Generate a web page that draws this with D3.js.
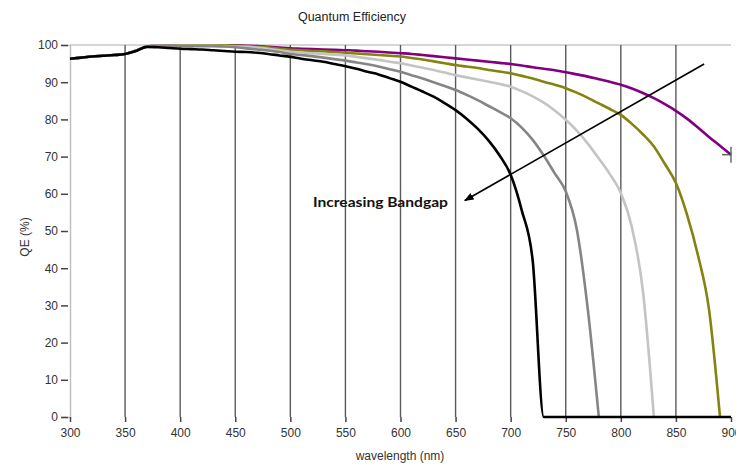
<!DOCTYPE html>
<html>
<head>
<meta charset="utf-8">
<script src="https://cdn.jsdelivr.net/npm/d3@7"></script>
<style>
  body { margin: 0; background: #fff; }
  svg { display: block; }
</style>
</head>
<body>
<div id="chart"></div>
<script>
// Quantum efficiency curves
var wavelengths = [300, 310, 320, 330, 340, 350, 360, 370, 380, 390, 400,
	410, 420, 430, 440, 450, 460, 470, 480, 490, 500,
	510, 520, 530, 540, 550, 560, 570, 580, 590, 600,
	610, 620, 630, 640, 650, 660, 670, 680, 690, 700,
	710, 720, 730, 740, 750, 760, 770, 780, 790, 800,
	810, 820, 830, 840, 850, 860, 870, 880, 890, 900];

var qePurple = [96.3, 96.6, 96.9, 97.1, 97.3, 97.6, 98.5, 99.6, 99.8, 99.9, 99.9,
	99.9, 99.9, 99.9, 99.9, 99.9, 99.8, 99.7, 99.5, 99.3, 99.1,
	99.0, 98.9, 98.8, 98.7, 98.6, 98.5, 98.3, 98.2, 98.0, 97.8,
	97.6, 97.3, 97.0, 96.7, 96.4, 96.1, 95.8, 95.5, 95.2, 94.9,
	94.5, 94.0, 93.6, 93.2, 92.7, 92.1, 91.5, 90.8, 90.1, 89.3,
	88.3, 87.1, 85.7, 84.1, 82.3, 80.2, 77.8, 75.3, 72.9, 70.5];

var qeOlive = [96.3, 96.6, 96.9, 97.1, 97.3, 97.6, 98.5, 99.6, 99.8, 99.8, 99.9,
	99.9, 99.9, 99.9, 99.9, 99.8, 99.7, 99.5, 99.3, 99.0, 98.7,
	98.6, 98.4, 98.3, 98.1, 97.9, 97.7, 97.5, 97.3, 97.1, 96.9,
	96.5, 96.1, 95.6, 95.1, 94.6, 94.2, 93.8, 93.3, 92.9, 92.4,
	91.7, 91.0, 90.1, 89.3, 88.4, 87.2, 85.8, 84.3, 82.8, 81.2,
	78.8, 76.0, 72.7, 68.0, 62.9, 54.5, 43.5, 29.0, 0, null];

var qeLightGray = [96.3, 96.6, 96.9, 97.1, 97.3, 97.6, 98.5, 99.6, 99.8, 99.8, 99.8,
	99.8, 99.8, 99.8, 99.7, 99.6, 99.5, 99.3, 99.0, 98.6, 98.2,
	98.0, 97.8, 97.6, 97.4, 97.2, 96.8, 96.4, 96.0, 95.5, 95.1,
	94.5, 93.9, 93.3, 92.6, 91.9, 91.3, 90.7, 90.1, 89.5, 88.8,
	87.6, 86.2, 84.5, 82.4, 79.9, 77.0, 73.5, 69.5, 65.3, 60.2,
	51.0, 34.0, 0, null, null, null, null, null, null, null];

var qeDarkGray = [96.3, 96.6, 96.9, 97.1, 97.3, 97.6, 98.5, 99.6, 99.7, 99.7, 99.7,
	99.7, 99.7, 99.7, 99.6, 99.4, 99.1, 98.8, 98.5, 98.1, 97.6,
	97.3, 97.0, 96.6, 96.2, 95.8, 95.3, 94.8, 94.2, 93.5, 92.8,
	91.9, 91.0, 90.0, 89.0, 87.9, 86.6, 85.2, 83.6, 82.0, 80.3,
	77.8, 74.5, 70.3, 65.5, 60.6, 50.5, 29.0, 0, null, null,
	null, null, null, null, null, null, null, null, null, null];

var qeBlack = [96.3, 96.6, 96.9, 97.1, 97.3, 97.6, 98.4, 99.5, 99.4, 99.2, 99.0,
	98.9, 98.8, 98.6, 98.4, 98.2, 98.1, 97.9, 97.6, 97.2, 96.8,
	96.3, 95.9, 95.5, 94.9, 94.3, 93.6, 92.8, 92.1, 91.1, 90.1,
	88.8, 87.5, 86.1, 84.4, 82.5, 80.2, 77.5, 74.3, 70.3, 65.1,
	55.6, 42.0, 0, 0, 0, 0, 0, 0, 0, 0,
	0, 0, 0, 0, 0, 0, 0, 0, 0, 0];

var xTicks = [300, 350, 400, 450, 500, 550, 600, 650, 700, 750, 800, 850, 900];
var yTicks = [0, 10, 20, 30, 40, 50, 60, 70, 80, 90, 100];

// arrow annotation: [wavelength, QE] from -> to, and label position
var arrowFrom = [875.6, 94.9];
var arrowTo = [658.4, 58.2];
var labelAt = [581.8, 57.9];
var labelText = "Increasing Bandgap";

var margin = { top: 45, right: 5, bottom: 50, left: 70 };
var width = 736 - margin.left - margin.right,
	height = 467 - margin.top - margin.bottom;

var svg = d3.select("#chart").append("svg")
	.attr("width", 736)
	.attr("height", 467);

var g = svg.append("g")
	.attr("transform", "translate(" + margin.left + "," + margin.top + ")");

var x = d3.scaleLinear().domain([300, 900]).range([0, width]);
var y = d3.scaleLinear().domain([0, 100]).range([height, 0]);

// title
svg.append("text")
	.attr("x", 352)
	.attr("y", 21)
	.attr("text-anchor", "middle")
	.style("font-family", "'Liberation Sans', Arial, sans-serif")
	.style("font-size", "12.5px")
	.style("fill", "#222")
	.text("Quantum Efficiency");

// top frame line
g.append("line")
	.attr("x1", 0).attr("x2", width)
	.attr("y1", 0).attr("y2", 0)
	.attr("stroke", "#c8c8c8")
	.attr("stroke-width", 1.5);

// vertical grid lines
g.selectAll(".grid")
	.data(xTicks.filter(function(d){ return d > 300 && d < 900; }))
	.enter().append("line")
	.attr("class", "grid")
	.attr("x1", function(d){ return x(d); })
	.attr("x2", function(d){ return x(d); })
	.attr("y1", 0)
	.attr("y2", height)
	.attr("stroke", "#5a5a5a")
	.attr("stroke-width", 1.4);

// y axis
var yAxis = d3.axisLeft(y).tickValues(yTicks).tickSize(9).tickPadding(3);
var yg = g.append("g").call(yAxis);
yg.select(".domain").attr("stroke", "#c0c0c0").attr("stroke-width", 1.5);
yg.selectAll(".tick line").attr("stroke", "#444").attr("stroke-width", 1.5)
	.attr("x1", -2);
yg.selectAll(".tick text")
	.style("font-family", "'Liberation Sans', Arial, sans-serif")
	.style("font-size", "12px")
	.style("fill", "#333");

// x axis
var xAxis = d3.axisBottom(x).tickValues(xTicks).tickSize(5).tickPadding(6);
var xg = g.append("g").attr("transform", "translate(0," + height + ")").call(xAxis);
xg.select(".domain").remove();
xg.selectAll(".tick line").attr("stroke", "#444").attr("stroke-width", 1.5);
xg.selectAll(".tick text")
	.style("font-family", "'Liberation Sans', Arial, sans-serif")
	.style("font-size", "12px")
	.style("fill", "#333");

// axis titles
svg.append("text")
	.attr("x", 400)
	.attr("y", 460)
	.attr("text-anchor", "middle")
	.style("font-family", "'Liberation Sans', Arial, sans-serif")
	.style("font-size", "12px")
	.style("fill", "#333")
	.text("wavelength (nm)");

svg.append("text")
	.attr("transform", "translate(29,237) rotate(-90)")
	.attr("text-anchor", "middle")
	.style("font-family", "'Liberation Sans', Arial, sans-serif")
	.style("font-size", "12px")
	.style("fill", "#333")
	.text("QE (%)");

// curves
var series = [
	{ name: "purple", color: "#800080", values: qePurple },
	{ name: "olive", color: "#838310", values: qeOlive },
	{ name: "lightgray", color: "#c4c4c4", values: qeLightGray },
	{ name: "darkgray", color: "#858585", values: qeDarkGray },
	{ name: "black", color: "#000000", values: qeBlack }
];

var line = d3.line()
	.defined(function(d){ return d[1] !== null; })
	.curve(d3.curveMonotoneX)
	.x(function(d){ return x(d[0]); })
	.y(function(d){ return y(d[1]); });

g.selectAll(".curve")
	.data(series)
	.enter().append("path")
	.attr("class", "curve")
	.attr("fill", "none")
	.attr("stroke", function(d){ return d.color; })
	.attr("stroke-width", 2.6)
	.attr("stroke-linejoin", "round")
	.attr("d", function(d){
		return line(wavelengths.map(function(w, i){ return [w, d.values[i]]; }));
	});

// end marker on the purple curve
var endX = x(wavelengths[wavelengths.length - 1]),
	endY = y(qePurple[qePurple.length - 1]);
g.append("line")
	.attr("x1", endX - 9).attr("x2", endX)
	.attr("y1", endY).attr("y2", endY)
	.attr("stroke", "#555").attr("stroke-width", 1.3);
g.append("line")
	.attr("x1", endX).attr("x2", endX)
	.attr("y1", endY - 8).attr("y2", endY + 8)
	.attr("stroke", "#555").attr("stroke-width", 1.3);

// annotation arrow
svg.append("defs").append("marker")
	.attr("id", "arrowhead")
	.attr("viewBox", "0 0 10 10")
	.attr("refX", 9).attr("refY", 5)
	.attr("markerWidth", 6).attr("markerHeight", 6)
	.attr("orient", "auto")
	.append("path")
	.attr("d", "M0,1 L10,5 L0,9 z")
	.attr("fill", "#000");

g.append("line")
	.attr("x1", x(arrowFrom[0])).attr("y1", y(arrowFrom[1]))
	.attr("x2", x(arrowTo[0])).attr("y2", y(arrowTo[1]))
	.attr("stroke", "#000")
	.attr("stroke-width", 1.6)
	.attr("marker-end", "url(#arrowhead)");

g.append("text")
	.attr("x", x(labelAt[0]))
	.attr("y", y(labelAt[1]))
	.attr("dy", "0.35em")
	.attr("text-anchor", "middle")
	.attr("textLength", 135)
	.attr("lengthAdjust", "spacingAndGlyphs")
	.style("font-family", "Lato, 'Open Sans', sans-serif")
	.style("font-weight", "bold")
	.style("font-size", "14px")
	.style("fill", "#111")
	.text(labelText);
</script>
</body>
</html>
